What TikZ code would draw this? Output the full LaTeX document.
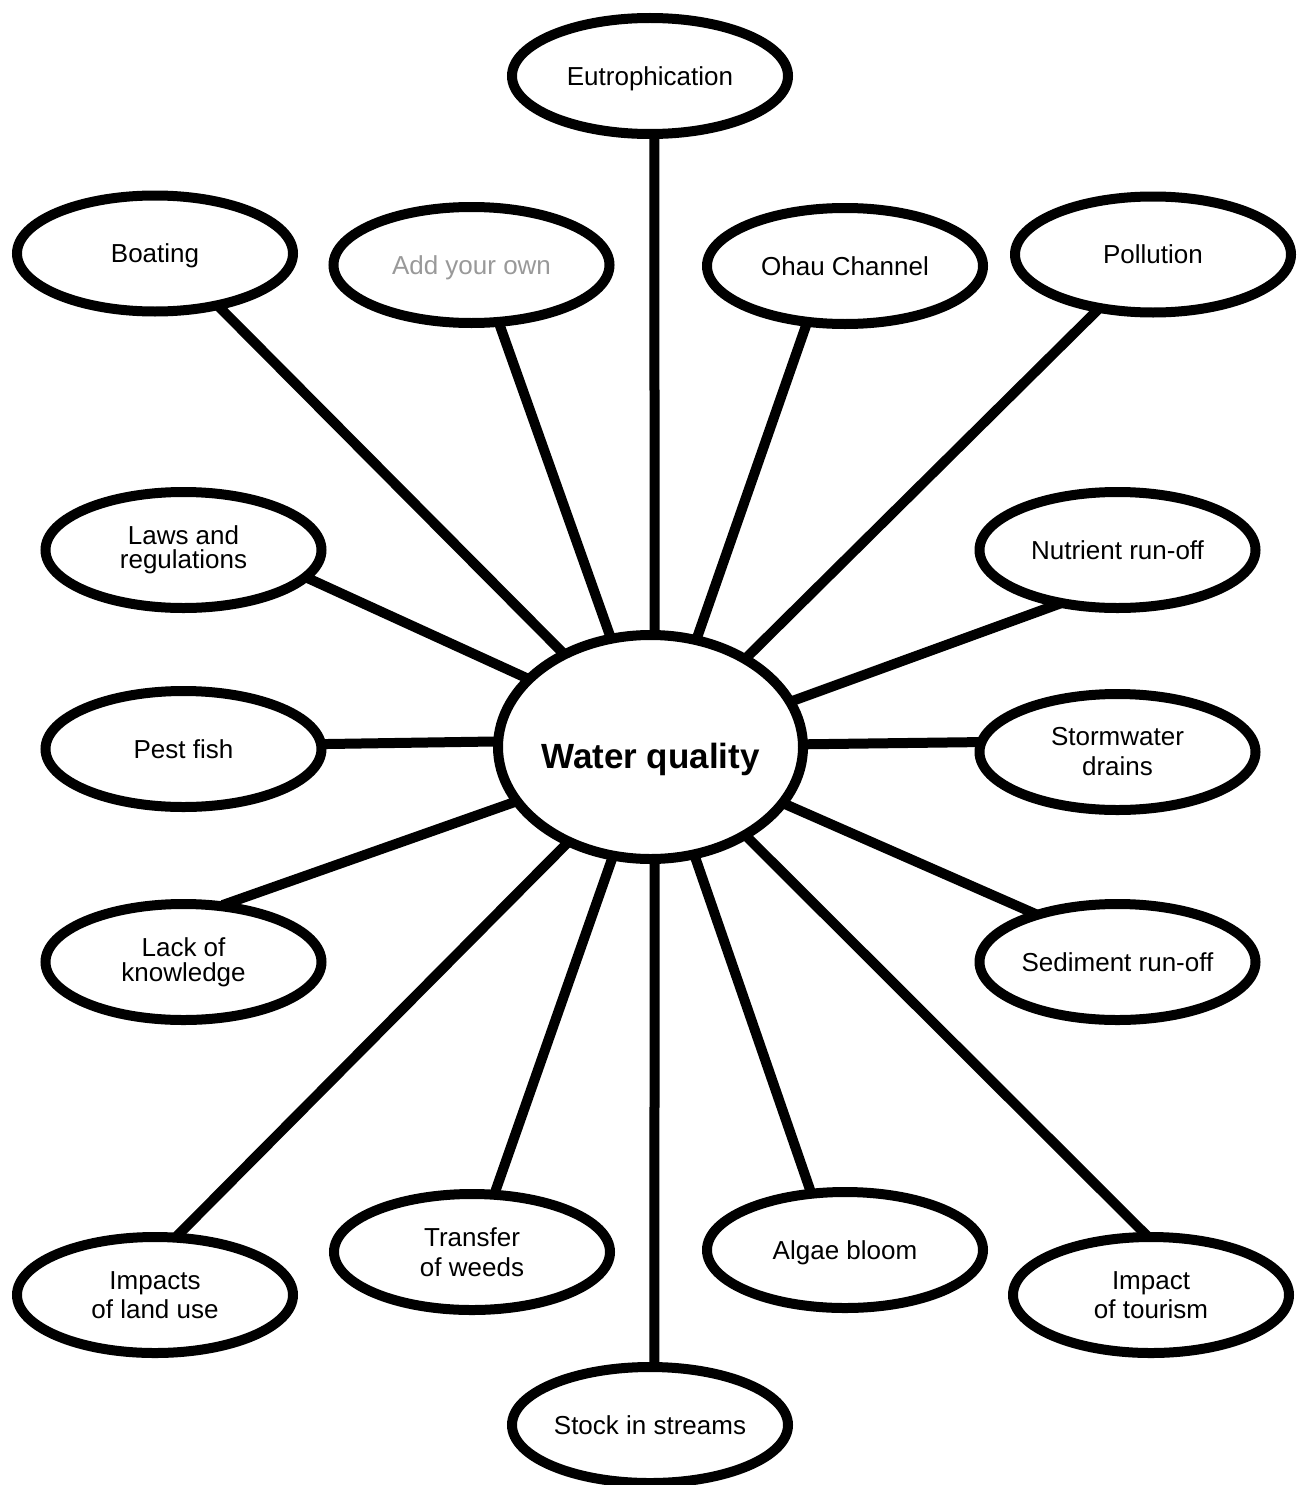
\documentclass[tikz,border=0pt]{standalone}
\usepackage{fontspec}
\setmainfont{Liberation Sans}
\usetikzlibrary{shapes.geometric,backgrounds}
\definecolor{addgray}{gray}{0.6}
\begin{document}
\begin{tikzpicture}[x=1pt,y=-1pt,
  bub/.style={ellipse, draw=black, line width=10pt, fill=white,
    minimum width=276pt, minimum height=116pt, inner sep=0pt,
    align=center, font=\fontsize{26}{30}\selectfont},
  oneline/.style={text height=18.5pt, text depth=0pt},
  conn/.style={line width=10pt, shorten <=-8pt, shorten >=-8pt}]
\useasboundingbox (0,0) rectangle (1297,1485);

\node[bub, oneline] (eut) at (650,76) {Eutrophication};
\node[bub, oneline] (boat) at (155,253.5) {Boating};
\node[bub, oneline, text=addgray] (add) at (471.5,265) {Add your own};
\node[bub, oneline] (ohau) at (845,266) {Ohau Channel};
\node[bub, oneline] (poll) at (1153,254.5) {Pollution};
\node[bub, font=\fontsize{26}{24}\selectfont] (laws) at (183.5,550) {Laws and\\regulations};
\node[bub, oneline] (nut) at (1117.5,550) {Nutrient run-off};
\node[bub, oneline] (pest) at (183.5,749) {Pest fish};
\node[bub] (storm) at (1117.5,752) {Stormwater\\drains};
\node[bub, font=\fontsize{26}{25}\selectfont] (lack) at (183.5,962) {Lack of\\knowledge};
\node[bub, oneline] (sed) at (1117.5,962) {Sediment run-off};
\node[bub, font=\fontsize{26}{29}\selectfont] (land) at (155,1295) {Impacts\\of land use};
\node[bub] (trans) at (472,1252) {Transfer\\of weeds};
\node[bub, oneline] (algae) at (845,1250) {Algae bloom};
\node[bub, font=\fontsize{26}{29}\selectfont] (tour) at (1151,1295) {Impact\\of tourism};
\node[bub, oneline] (stock) at (650,1425) {Stock in streams};
\node[bub, minimum width=305pt, minimum height=224pt, inner xsep=-6pt,
  text height=42pt, text depth=0pt,
  font=\fontsize{35}{40}\selectfont\bfseries] (wq) at (650.5,747) {Water quality};

\begin{pgfonlayer}{background}
\fill[white] (0,0) rectangle (1297,1485);
\draw[conn] (eut.-86.4) -- (wq.88.3);
\draw[conn] (boat.-40) -- (wq.133);
\draw[conn] (add.-65.3) -- (wq.110.9);
\draw[conn] (ohau.237.8) -- (wq.67.8);
\draw[conn] (poll.-135) -- (wq.43.9);
\draw[conn] (laws.-13.3) -- (wq.151.6);
\draw[conn] (nut.-139.3) -- (wq.18.7);
\draw[conn] (pest.2.0) -- (wq.178.9);
\draw[conn] (storm.176.8) -- (wq.1.1);
\draw[conn] (lack.52.2) -- (wq.-158.3);
\draw[conn] (sed.150.1) -- (wq.-23.3);
\draw[conn] (land.68.4) -- (wq.-131.9);
\draw[conn] (trans.69.5) -- (wq.-109.7);
\draw[conn] (algae.120.4) -- (wq.-68.5);
\draw[conn] (tour.97) -- (wq.-43.1);
\draw[conn] (stock.86.3) -- (wq.-88.3);
\end{pgfonlayer}
\end{tikzpicture}
\end{document}
